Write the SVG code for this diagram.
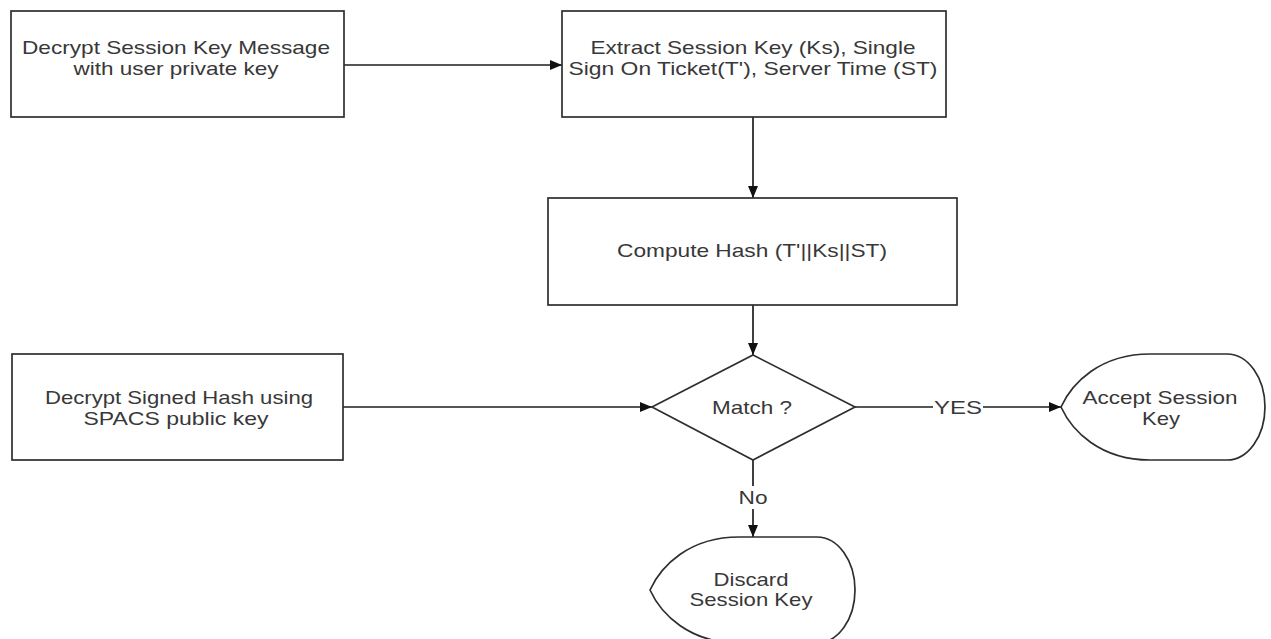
<svg xmlns="http://www.w3.org/2000/svg" width="1271" height="639" viewBox="0 0 1271 639">
  <style>
    .box { fill: #ffffff; stroke: #2e2e2e; stroke-width: 1.7; }
    .edge { fill: none; stroke: #1e1e1e; stroke-width: 1.7; }
    .lbl { font-family: "Liberation Sans", Arial, sans-serif; font-size: 19px; fill: #383838; text-anchor: middle; }
  </style>
  <defs>
    <marker id="arrow" viewBox="0 0 12 10" refX="12" refY="5" markerWidth="13" markerHeight="10" markerUnits="userSpaceOnUse" orient="auto">
      <path d="M0,0 L12,5 L0,10 Z" fill="#111111"/>
    </marker>
  </defs>
  <rect width="1271" height="639" fill="#ffffff"/>

  <!-- connectors -->
  <g id="connectors">
    <line class="edge" x1="344" y1="65" x2="562" y2="65" marker-end="url(#arrow)"/>
    <line class="edge" x1="753" y1="117" x2="753" y2="198" marker-end="url(#arrow)"/>
    <line class="edge" x1="753" y1="305" x2="753" y2="355" marker-end="url(#arrow)"/>
    <line class="edge" x1="343" y1="407" x2="652" y2="407" marker-end="url(#arrow)"/>
    <line class="edge" x1="855" y1="407" x2="933" y2="407"/>
    <line class="edge" x1="983" y1="407" x2="1061" y2="407" marker-end="url(#arrow)"/>
    <text class="lbl" x="958" y="414" textLength="48" lengthAdjust="spacingAndGlyphs">YES</text>
    <line class="edge" x1="753" y1="460" x2="753" y2="486"/>
    <line class="edge" x1="753" y1="509" x2="753" y2="537" marker-end="url(#arrow)"/>
    <text class="lbl" x="753" y="504" textLength="29" lengthAdjust="spacingAndGlyphs">No</text>
  </g>

  <g id="decrypt-session-key">
    <rect class="box" x="11" y="11" width="333" height="106"/>
    <text class="lbl" x="176" y="54" textLength="308" lengthAdjust="spacingAndGlyphs">Decrypt Session Key Message</text>
    <text class="lbl" x="176" y="75" textLength="205" lengthAdjust="spacingAndGlyphs">with user private key</text>
  </g>

  <g id="extract-session-key">
    <rect class="box" x="562" y="11" width="384" height="106"/>
    <text class="lbl" x="753" y="54" textLength="325" lengthAdjust="spacingAndGlyphs">Extract Session Key (Ks), Single</text>
    <text class="lbl" x="753" y="75" textLength="369" lengthAdjust="spacingAndGlyphs">Sign On Ticket(T'), Server Time (ST)</text>
  </g>

  <g id="compute-hash">
    <rect class="box" x="548" y="198" width="409" height="107"/>
    <text class="lbl" x="752" y="257" textLength="270" lengthAdjust="spacingAndGlyphs">Compute Hash (T'||Ks||ST)</text>
  </g>

  <g id="decrypt-signed-hash">
    <rect class="box" x="12" y="354" width="331" height="106"/>
    <text class="lbl" x="179" y="404" textLength="268" lengthAdjust="spacingAndGlyphs">Decrypt Signed Hash using</text>
    <text class="lbl" x="176" y="425" textLength="185" lengthAdjust="spacingAndGlyphs">SPACS public key</text>
  </g>

  <g id="match">
    <polygon class="box" points="753,355 855,407 753,460 652,407"/>
    <text class="lbl" x="752" y="414" textLength="80" lengthAdjust="spacingAndGlyphs">Match ?</text>
  </g>

  <g id="accept-session-key">
    <path class="box" d="M1061,407 C1072,383 1100,354 1150,354 L1227,354 A38,53 0 0 1 1227,460 L1150,460 C1100,460 1072,431 1061,407 Z"/>
    <text class="lbl" x="1160" y="404" textLength="155" lengthAdjust="spacingAndGlyphs">Accept Session</text>
    <text class="lbl" x="1161" y="425" textLength="38" lengthAdjust="spacingAndGlyphs">Key</text>
  </g>

  <g id="discard-session-key">
    <path class="box" d="M650,590 C661,566 689,537 739,537 L817,537 A38,53 0 0 1 817,643 L739,643 C689,643 661,614 650,590 Z"/>
    <text class="lbl" x="751" y="586" textLength="75" lengthAdjust="spacingAndGlyphs">Discard</text>
    <text class="lbl" x="751" y="606" textLength="123" lengthAdjust="spacingAndGlyphs">Session Key</text>
  </g>
</svg>
